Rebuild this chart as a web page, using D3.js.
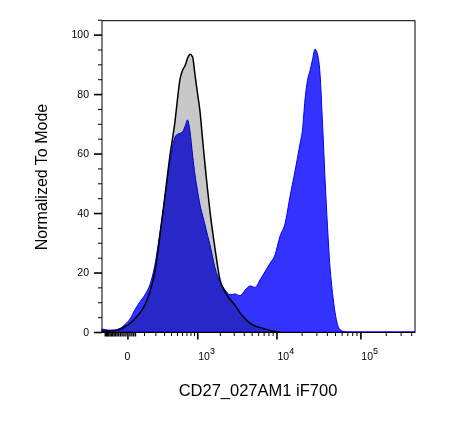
<!DOCTYPE html>
<html lang="en">
<head>
<meta charset="utf-8">
<script src="https://d3js.org/d3.v7.min.js"></script>
<style>
  body {margin: 0; background: #fff;}
  svg text {font-family: "Liberation Sans", Arial, sans-serif; fill: #000;}
</style>
</head>
<body>
<svg id="chart" width="471" height="425"></svg>
<script>
// bin centres on the CD27 iF700 channel (fluorescence units)
const binX = [-175, -147, -106, -70, -39, -12, 13, 40, 72, 108, 149, 195, 250, 313, 384, 465,
  511, 559, 611, 666, 725, 789, 858, 930, 1008, 1091, 1180, 1276, 1378, 1487, 1731, 2009,
  2327, 2692, 3111, 3591, 4139, 4769, 5493, 6319, 7266, 8351, 9594, 11025, 12660, 14530,
  16670, 19140, 20510, 21960, 23520, 25190, 26970, 28880, 30920, 33140, 35490, 37990,
  40720, 43560, 46670, 49980, 53520, 57300, 65680, 75280, 170700, 444000];

// unstained control, % of mode (grey fill, black outline)
const controlY = [0.4, 0.3, 0.3, 0.5, 0.9, 1.8, 2.9, 4.5, 6.5, 9.2, 13.6, 20.3, 32.6, 46.1, 59.5, 70.8,
  78.5, 85.0, 88.0, 89.5, 92.0, 93.4, 92.5, 86.4, 80.2, 74.1, 65.0, 56.2, 48.0, 40.5, 28.0, 17.5,
  13.5, 11.0, 9.0, 6.5, 4.5, 3.0, 2.0, 1.5, 1.0, 0.5, 0.2, 0, 0, 0,
  0, 0, 0, 0, 0, 0, 0, 0, 0, 0, 0, 0,
  0, 0, 0, 0, 0, 0, 0, 0, 0, 0];

// CD27 stained sample, % of mode (blue)
const sampleY = [1.0, 0.8, 0.6, 0.7, 1.2, 2.5, 4.4, 7.5, 10.2, 12.6, 16.0, 22.5, 33.5, 45.5, 57.5, 65.5,
  66.5, 66.8, 67.3, 69.1, 71.3, 67.4, 59.5, 52.8, 47.5, 42.7, 39.3, 36.0, 32.5, 29.3, 21.5, 16.9,
  14.2, 12.5, 12.8, 12.2, 14.0, 15.5, 15.0, 17.5, 20.3, 23.1, 25.9, 32.2, 36.4, 45.5,
  54.0, 63.2, 68.0, 78.0, 84.6, 87.8, 91.5, 95.1, 93.5, 87.0, 70.5, 52.0,
  35.4, 22.0, 13.2, 6.7, 2.5, 0.8, 0.1, 0, 0, 0];

const yMajor = [0, 20, 40, 60, 80, 100];
const yMinor = [5, 10, 15, 25, 30, 35, 45, 50, 55, 65, 70, 75, 85, 90, 95, 105];
const xMajor = [0, 1e3, 1e4, 1e5];
const xLabels = ["0", "10|3", "10|4", "10|5"];
const xNearZero = [-150, -140, -130, -120, -110, -100, -90, -80, -70, -60, -50, -40, -30, -20, -10, 10, 20, 30, 40];
const xMinor = [100, 200, 300, 400, 500, 600, 700, 800, 900,
  2000, 3000, 4000, 5000, 6000, 7000, 8000, 9000,
  20000, 30000, 40000, 50000, 60000, 70000, 80000, 90000,
  200000, 300000, 400000];

const svg = d3.select("#chart");
const plotLeft = 102, plotRight = 415, plotTop = 20.7, plotBottom = 332.5;

// biexponential-like display, symlog fits the tick spacing well
const x = d3.scaleSymlog().constant(175).domain([-175, 444000]).range([plotLeft, plotRight]);
const y = d3.scaleLinear().domain([0, 100]).range([332, 34.6]);

const control = binX.map((v, i) => ({x: v, y: controlY[i]}));
const sample = binX.map((v, i) => ({x: v, y: sampleY[i]}));
const lastCtl = controlY.findIndex((v, i) => i > 20 && v === 0);

const area = d3.area().x(d => x(d.x)).y0(y(0)).y1(d => y(d.y)).curve(d3.curveMonotoneX);
const line = d3.line().x(d => x(d.x)).y(d => y(d.y)).curve(d3.curveMonotoneX);

const plot = svg.append("g");
plot.append("path").datum(control.slice(0, lastCtl + 1))
  .attr("d", area).attr("fill", "#c8c8c8");
plot.append("path").datum(sample)
  .attr("d", area).attr("fill", "#3333ff")
  .attr("stroke", "#0000ff").attr("stroke-width", 1)
  .style("mix-blend-mode", "multiply");
plot.append("path").datum(control.slice(0, lastCtl + 1))
  .attr("d", line).attr("fill", "none")
  .attr("stroke", "#000").attr("stroke-width", 1.5);

// frame
svg.append("rect").attr("x", plotLeft).attr("y", plotTop)
  .attr("width", plotRight - plotLeft).attr("height", plotBottom - plotTop)
  .attr("fill", "none").attr("stroke", "#000").attr("stroke-width", 1);

// y axis
const yAxis = svg.append("g").attr("transform", `translate(${plotLeft},0)`)
  .call(d3.axisLeft(y).tickValues(yMajor).tickSize(8).tickPadding(5));
yAxis.selectAll(".tick line").attr("stroke-width", 1.6);
svg.append("g").attr("transform", `translate(${plotLeft},0)`)
  .call(d3.axisLeft(y).tickValues(yMinor).tickSize(4).tickFormat(""));
svg.selectAll(".domain").remove();
yAxis.selectAll("text").attr("font-size", "10.5px").attr("fill", "#000");

// x axis
const xg = svg.append("g").attr("transform", `translate(0,${plotBottom})`);
xg.call(d3.axisBottom(x).tickValues(xMajor).tickSize(7).tickFormat(""));
xg.selectAll(".tick line").attr("stroke-width", 1.6);
svg.append("g").attr("transform", `translate(0,${plotBottom})`)
  .call(d3.axisBottom(x).tickValues(xMinor).tickSize(3.5).tickFormat(""));
svg.append("g").attr("transform", `translate(0,${plotBottom})`)
  .call(d3.axisBottom(x).tickValues(xNearZero).tickSize(4).tickFormat(""))
  .selectAll(".tick line").attr("stroke-width", 1.4);
svg.selectAll(".domain").remove();

xMajor.forEach((v, i) => {
  const parts = xLabels[i].split("|");
  const t = svg.append("text").attr("y", 360).attr("font-size", "10.5px");
  if (parts.length === 1) {
    t.attr("x", x(v)).attr("text-anchor", "middle").text(parts[0]);
  } else {
    t.attr("x", x(v) + 1).attr("text-anchor", "start");
    t.append("tspan").text(parts[0]);
    t.append("tspan").attr("dy", -6).attr("font-size", "9px").text(parts[1]);
  }
});

// axis titles
svg.append("text").attr("x", 258).attr("y", 396).attr("text-anchor", "middle")
  .attr("font-size", "16.5px").text("CD27_027AM1 iF700");
svg.append("text").attr("transform", "translate(47,177) rotate(-90)")
  .attr("text-anchor", "middle").attr("font-size", "16px").text("Normalized To Mode");
</script>
</body>
</html>
